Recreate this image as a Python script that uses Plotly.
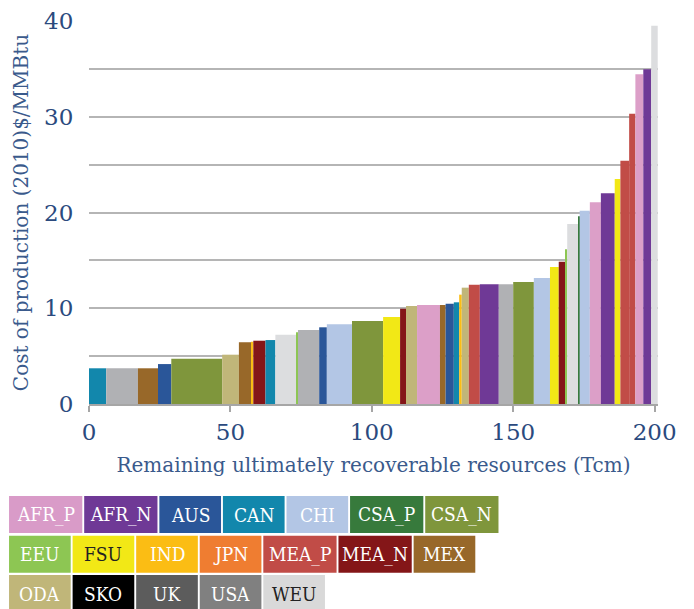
import plotly.graph_objects as go

# ---- data ----
regions = ["CAN", "USA", "MEX", "AUS", "CSA_N", "ODA", "MEX", "IND", "MEA_N", "CAN",
           "WEU", "EEU", "USA", "AUS", "CHI", "CSA_N", "FSU", "MEA_N", "ODA", "AFR_P",
           "MEX", "AUS", "CAN", "IND", "ODA", "MEA_P", "AFR_N", "USA", "CSA_N", "CHI",
           "FSU", "MEA_N", "EEU", "WEU", "CSA_P", "CHI", "AFR_P", "AFR_N", "FSU", "MEA_P",
           "MEA_P", "AFR_P", "AFR_N", "WEU"]
resources = [6.1, 11.2, 7.1, 4.7, 18.0, 5.9, 4.5, 0.6, 4.3, 3.5,
             7.3, 0.7, 7.5, 2.7, 8.9, 11.0, 6.0, 2.1, 3.9, 8.1,
             2.0, 2.9, 1.9, 0.9, 2.5, 3.9, 6.7, 5.1, 7.3, 5.7,
             3.1, 2.3, 0.7, 3.9, 0.5, 3.6, 3.9, 4.9, 2.0, 3.1,
             2.2, 2.8, 2.8, 2.3]
costs = [3.73, 3.73, 3.73, 4.17, 4.73, 5.15, 6.45, 6.5, 6.61, 6.68,
         7.24, 7.49, 7.73, 8.01, 8.32, 8.67, 9.09, 9.95, 10.23, 10.34,
         10.34, 10.47, 10.62, 11.42, 12.15, 12.46, 12.5, 12.5, 12.74, 13.16,
         14.31, 14.86, 16.16, 18.8, 19.6, 20.19, 21.07, 22.0, 23.5, 25.41,
         30.32, 34.43, 34.95, 39.5]

legend_names = ["AFR_P", "AFR_N", "AUS", "CAN", "CHI", "CSA_P", "CSA_N",
                "EEU", "FSU", "IND", "JPN", "MEA_P", "MEA_N", "MEX",
                "ODA", "SKO", "UK", "USA", "WEU"]
legend_colors = ["#d99bc8", "#6f3996", "#2a5699", "#1287ac", "#b3c6e5", "#377a3c", "#7f963c",
                 "#8dc653", "#f2e816", "#fbbd14", "#ef7d31", "#c14c47", "#841618", "#986829",
                 "#c0b679", "#000000", "#5c5c5c", "#808080", "#d9d9d9"]
bar_colors = dict(zip(legend_names, legend_colors))
bar_colors.update({"USA": "#b0b1b4", "WEU": "#dcdddf", "AFR_P": "#dc9fc8"})

xticks = [0, 50, 100, 150, 200]
yticks = [0, 10, 20, 30, 40]

# ---- layout geometry (pixels) ----
W, H = 694, 609
L, R, T, B = 89, 658.3, 21, 404

starts = []
acc = 0.0
for r in resources:
    starts.append(acc)
    acc += r
mids = [s + w / 2 for s, w in zip(starts, resources)]

fig = go.Figure()
fig.add_trace(go.Bar(
    x=mids, y=costs, width=resources,
    marker=dict(color=[bar_colors[r] for r in regions], line=dict(width=0)),
    hovertext=regions, showlegend=False,
))

tickfont = dict(family="DejaVu Serif", size=23, color="#2b4a7e")
titlefont = dict(family="DejaVu Serif", size=20, color="#3a5a8c")

fig.update_layout(
    width=W, height=H,
    margin=dict(l=L, r=W - R, t=T, b=H - B, pad=0, autoexpand=False),
    paper_bgcolor="white", plot_bgcolor="white",
    xaxis=dict(range=[0, 201.2], tickvals=xticks, showgrid=False, zeroline=False,
               showline=True, linecolor="#a6a6a6", linewidth=2, automargin=False,
               ticks="outside", ticklen=6, tickcolor="#a6a6a6", tickwidth=1.5,
               tickfont=tickfont,
               title=dict(text="Remaining ultimately recoverable resources (Tcm)",
                          font=titlefont, standoff=14)),
    yaxis=dict(range=[0, 40], tickvals=yticks, showgrid=True, gridcolor="#b5b5b5",
               gridwidth=1.5, zeroline=False, showline=False, automargin=False,
               minor=dict(dtick=5, tick0=0, showgrid=True, gridcolor="#b5b5b5", gridwidth=1.5),
               ticks="outside", ticklen=10, tickcolor="rgba(0,0,0,0)",
               tickfont=tickfont,
               title=dict(text="Cost of production (2010)$/MMBtu", font=titlefont, standoff=10)),
)

# ---- custom legend ----
def px2paper_x(px):
    return (px - L) / (R - L)

def px2paper_y(py):
    return (B - py) / (B - T)

rows = [legend_names[0:7], legend_names[7:14], legend_names[14:19]]
row_tops = [496, 535.7, 575]
row_h = 37
dark_text = {"FSU", "WEU"}
for row, top in zip(rows, row_tops):
    x = 9
    for name in row:
        bw = 73.3 if len(name) >= 5 else 61.7
        col = legend_colors[legend_names.index(name)]
        fig.add_shape(type="rect", xref="paper", yref="paper",
                      x0=px2paper_x(x), x1=px2paper_x(x + bw),
                      y0=px2paper_y(top + row_h), y1=px2paper_y(top),
                      fillcolor=col, line=dict(width=0), layer="above")
        fig.add_annotation(xref="paper", yref="paper",
                           x=px2paper_x(x + bw / 2), y=px2paper_y(top + row_h / 2),
                           text=name, showarrow=False, xanchor="center", yanchor="middle",
                           font=dict(family="DejaVu Serif Condensed, DejaVu Serif", size=19,
                                     color="#222222" if name in dark_text else "white"))
        x += bw + 1.9

fig.write_html("out.html", config={"displayModeBar": False},
               post_script="document.body.style.margin='0';document.body.style.overflow='hidden';")
